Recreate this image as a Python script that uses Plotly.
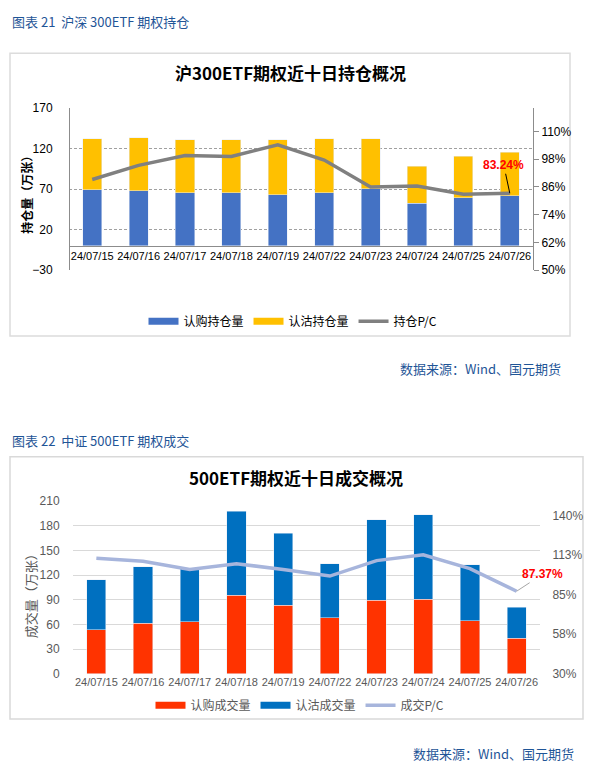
import plotly.graph_objects as go

W, H = 600, 782

dates = ["24/07/15", "24/07/16", "24/07/17", "24/07/18", "24/07/19",
         "24/07/22", "24/07/23", "24/07/24", "24/07/25", "24/07/26"]

# Chart 1: 沪300ETF 持仓 (万张)
oi_call = [69.4, 68.2, 65.8, 65.8, 63.3, 65.8, 70.6, 52.4, 59.7, 62.1]
oi_put = [63.0, 65.4, 65.4, 65.4, 67.9, 66.6, 61.8, 46.1, 50.9, 53.4]
oi_pc = [0.892, 0.953, 0.995, 0.991, 1.042, 0.976, 0.859, 0.864, 0.828, 0.8324]
oi_left_ticks = [-30, 20, 70, 120, 170]
oi_right_ticks = [0.50, 0.62, 0.74, 0.86, 0.98, 1.10]
oi_right_labels = ["50%", "62%", "74%", "86%", "98%", "110%"]

# Chart 2: 500ETF 成交 (万张)
vol_call = [53.7, 61.7, 63.2, 95.5, 83.5, 68.0, 89.5, 90.7, 64.4, 43.0]
vol_put = [60.9, 68.4, 64.8, 102.2, 87.1, 65.6, 97.9, 102.6, 68.1, 38.1]
vol_pc = [1.103, 1.081, 1.024, 1.065, 1.024, 0.979, 1.086, 1.126, 1.031, 0.8737]
vol_right_ticks = [0.30, 0.575, 0.85, 1.125, 1.40]
vol_right_labels = ["30%", "58%", "85%", "113%", "140%"]

FONT = "Liberation Sans, Noto Sans CJK SC, sans-serif"
CJK = "Noto Sans CJK SC, sans-serif"
HEAD = "#1F5597"


def px(x):
    return x / W


def py(y):
    return 1 - y / H


fig = go.Figure()

# ---------- chart 1 ----------
fig.add_trace(go.Bar(x=dates, y=oi_call, marker_color="#4472C4", showlegend=False,
                     xaxis="x", yaxis="y", name="认购持仓量"))
fig.add_trace(go.Bar(x=dates, y=oi_put, marker_color="#FFC000", showlegend=False,
                     xaxis="x", yaxis="y", name="认沽持仓量"))
fig.add_trace(go.Scatter(x=dates, y=oi_pc, mode="lines", line=dict(color="#808080", width=3.5),
                         xaxis="x", yaxis="y2", name="持仓P/C", showlegend=False))
for nm, col in [("认购持仓量", "#4472C4"), ("认沽持仓量", "#FFC000"), ("持仓P/C", "#808080")]:
    fig.add_trace(go.Scatter(x=[None], y=[None], mode="lines", name=nm,
                             line=dict(color=col, width=7 if nm != "持仓P/C" else 3.5),
                             xaxis="x", yaxis="y", legend="legend"))

# ---------- chart 2 ----------
fig.add_trace(go.Bar(x=dates, y=vol_call, marker_color="#FF3300", showlegend=False,
                     xaxis="x2", yaxis="y3", name="认购成交量"))
fig.add_trace(go.Bar(x=dates, y=vol_put, marker_color="#0070C0", showlegend=False,
                     xaxis="x2", yaxis="y3", name="认沽成交量"))
fig.add_trace(go.Scatter(x=dates, y=vol_pc, mode="lines", line=dict(color="#A7B5DC", width=3.5),
                         xaxis="x2", yaxis="y4", name="成交P/C", showlegend=False))
for nm, col in [("认购成交量", "#FF3300"), ("认沽成交量", "#0070C0"), ("成交P/C", "#A7B5DC")]:
    fig.add_trace(go.Scatter(x=[None], y=[None], mode="lines", name=nm,
                             line=dict(color=col, width=7 if nm != "成交P/C" else 3.5),
                             xaxis="x2", yaxis="y3", legend="legend2"))

# domains
y1d = [py(268), py(103)]
y2d = [py(679), py(503)]
r1 = [-30.05, 170.05]
zero_pos = y1d[0] + (0 - r1[0]) / (r1[1] - r1[0]) * (y1d[1] - y1d[0])

fig.update_layout(
    width=W, height=H, autosize=False,
    margin=dict(l=0, r=0, t=0, b=0),
    paper_bgcolor="white", plot_bgcolor="white",
    font=dict(family=FONT, size=12, color="black"),
    barmode="stack", bargap=0.59,
    xaxis=dict(domain=[px(69), px(533)], anchor="free", position=zero_pos,
               range=[-0.5, 9.5], showgrid=False, showline=True, linecolor="#8c8c8c",
               linewidth=1, ticks="", tickangle=0, tickfont=dict(size=11, color="black")),
    yaxis=dict(domain=y1d, range=r1, tickvals=oi_left_ticks, showgrid=True,
               gridcolor="#a0a0a0", griddash="3px,2px", gridwidth=1, zeroline=False,
               showline=True, linecolor="#8c8c8c", linewidth=1,
               ticks="outside", ticklen=14, tickcolor="rgba(0,0,0,0)",
               tickfont=dict(size=12, color="black"), anchor="free", position=px(69)),
    yaxis2=dict(overlaying="y", side="right", range=[0.5, 1.2], tickvals=oi_right_ticks,
                ticktext=oi_right_labels, showgrid=False, zeroline=False, showline=True,
                linecolor="#8c8c8c", linewidth=1, ticks="outside", ticklen=5,
                tickcolor="#8c8c8c", tickfont=dict(size=12, color="black"),
                anchor="free", position=px(533)),
    xaxis2=dict(domain=[px(73), px(540)], anchor="y3", range=[-0.5, 9.5], showgrid=False,
                showline=False, ticks="", tickangle=0, tickfont=dict(size=11, color="#595959")),
    yaxis3=dict(domain=y2d, range=[0, 210], dtick=30, tick0=0, showgrid=True,
                gridcolor="#d9d9d9", gridwidth=1, zeroline=False, showline=False,
                ticks="outside", ticklen=10, tickcolor="rgba(0,0,0,0)",
                tickfont=dict(size=12, color="#595959"), anchor="x2"),
    yaxis4=dict(overlaying="y3", side="right", range=[0.3, 1.5], tickvals=vol_right_ticks,
                ticktext=vol_right_labels, showgrid=False, zeroline=False, showline=False,
                ticks="outside", ticklen=9, tickcolor="rgba(0,0,0,0)",
                tickfont=dict(size=12, color="#595959"), anchor="x2"),
    legend=dict(orientation="h", x=px(293), y=py(320), xanchor="center", yanchor="middle",
                font=dict(size=12, color="black", family=CJK), bgcolor="rgba(0,0,0,0)",
                itemwidth=30, traceorder="normal"),
    legend2=dict(orientation="h", x=px(300), y=py(711), xanchor="center", yanchor="middle",
                 font=dict(size=12, color="#595959", family=CJK), bgcolor="rgba(0,0,0,0)",
                 itemwidth=30, traceorder="normal"),
)

shapes = [
    dict(type="rect", xref="paper", yref="paper", x0=px(10), x1=px(570), y0=py(335), y1=py(47),
         line=dict(color="#dcdcdc", width=1.5), fillcolor="rgba(0,0,0,0)", layer="below"),
    dict(type="rect", xref="paper", yref="paper", x0=px(10), x1=px(583), y0=py(725), y1=py(458),
         line=dict(color="#d9d9d9", width=1.5), fillcolor="rgba(0,0,0,0)", layer="below"),
]
fig.update_layout(shapes=shapes)

ann = [
    dict(text="图表 21  沪深 300ETF 期权持仓", x=px(10), y=py(15), xanchor="left", yanchor="middle",
         font=dict(size=13, color=HEAD, family=CJK)),
    dict(text="图表 22  中证 500ETF 期权成交", x=px(10), y=py(441), xanchor="left", yanchor="middle",
         font=dict(size=13, color=HEAD, family=CJK)),
    dict(text="<b>沪300ETF期权近十日持仓概况</b>", x=px(290), y=py(67), xanchor="center",
         yanchor="middle", font=dict(size=17, color="black", family=CJK)),
    dict(text="<b>500ETF期权近十日成交概况</b>", x=px(296), y=py(479), xanchor="center",
         yanchor="middle", font=dict(size=17, color="black", family=CJK)),
    dict(text="<b>持仓量（万张）</b>", x=px(27), y=py(188), xanchor="center", yanchor="middle",
         textangle=-90, font=dict(size=12, color="black", family=CJK)),
    dict(text="成交量（万张）", x=px(30), y=py(597), xanchor="center", yanchor="middle",
         textangle=-90, font=dict(size=13, color="#595959", family=CJK)),
    dict(text="数据来源：Wind、国元期货", x=px(563), y=py(368), xanchor="right", yanchor="middle",
         font=dict(size=13, color=HEAD, family=CJK)),
    dict(text="数据来源：Wind、国元期货", x=px(576), y=py(760), xanchor="right", yanchor="middle",
         font=dict(size=13, color=HEAD, family=CJK)),
]
for a in ann:
    a.update(xref="paper", yref="paper", showarrow=False)

ann.append(dict(text="<b>83.24%</b>", x=dates[9], y=oi_pc[9], xref="x", yref="y2",
                showarrow=True, arrowhead=0, arrowwidth=1, arrowcolor="black",
                ax=-6, ay=-28, font=dict(size=12, color="#FF0000", family=FONT)))
ann.append(dict(text="<b>87.37%</b>", x=dates[9], y=vol_pc[9], xref="x2", yref="y4",
                showarrow=True, arrowhead=0, arrowwidth=1, arrowcolor="#a6a6a6",
                ax=26, ay=-17, font=dict(size=12, color="#FF0000", family=FONT)))
fig.update_layout(annotations=ann)

fig.write_html("out.html",
               config={"displayModeBar": False},
               post_script="document.body.style.margin='0';"
                           "document.documentElement.style.overflow='hidden';")
